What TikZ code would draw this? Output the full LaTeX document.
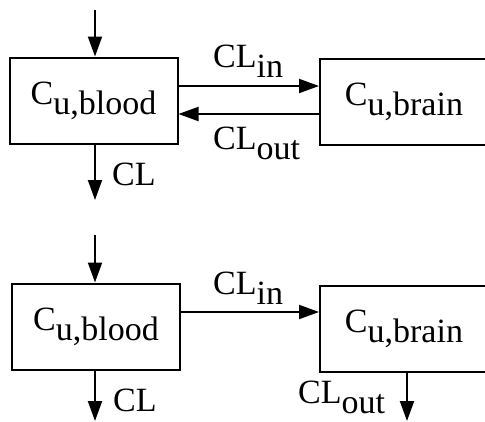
\documentclass[tikz,border=0pt]{standalone}
\usepackage{fontspec}
\setmainfont{Liberation Serif}
\usepackage{tikz}
\usetikzlibrary{arrows.meta}

\newcommand{\lo}[1]{\raisebox{-0.3em}{#1}}

\tikzset{
    comp/.style={draw, line width=2pt, minimum width=168pt, minimum height=86pt, inner sep=0pt},
    flow/.style={line width=2pt, -{Triangle[length=20pt,width=14pt]}},
    lbl/.style={anchor=base west, inner sep=0pt}
}

\begin{document}
\begin{tikzpicture}[x=1pt, y=-1pt, font=\fontsize{34}{40}\selectfont]
    \useasboundingbox (0,0) rectangle (485,421);

    % 1. Upper model: exchange in both directions
    \node[comp] (blood1) at (93.5,100.5) {C\lo{u,blood}};
    \node[comp] (brain1) at (404,102) {C\lo{u,brain}};

    \coordinate (dose1) at (95,10);
    \coordinate (elim1) at (95,200);

    \draw[flow] (dose1) -- (dose1 |- blood1.north);
    \draw[flow] (blood1.east |- 0,86) -- (brain1.west |- 0,86);
    \draw[flow] (brain1.west |- 0,114) -- (blood1.east |- 0,114);
    \draw[flow] (elim1 |- blood1.south) -- (elim1);

    \node[lbl] at (213,67) {CL\lo{in}};
    \node[lbl] at (213,149) {CL\lo{out}};
    \node[lbl] at (112,185) {CL};

    % 2. Lower model: brain cleared on its own
    \node[comp] (blood2) at (96,326.5) {C\lo{u,blood}};
    \node[comp] (brain2) at (404,328.5) {C\lo{u,brain}};

    \coordinate (dose2) at (95,235);
    \coordinate (elim2) at (95,421);
    \coordinate (out2) at (407,421);

    \draw[flow] (dose2) -- (dose2 |- blood2.north);
    \draw[flow] (blood2.east |- 0,312) -- (brain2.west |- 0,312);
    \draw[flow] (elim2 |- blood2.south) -- (elim2);
    \draw[flow] (out2 |- brain2.south) -- (out2);

    \node[lbl] at (213,294) {CL\lo{in}};
    \node[lbl] at (113,411) {CL};
    \node[lbl] at (298,403) {CL\lo{out}};

\end{tikzpicture}
\end{document}
